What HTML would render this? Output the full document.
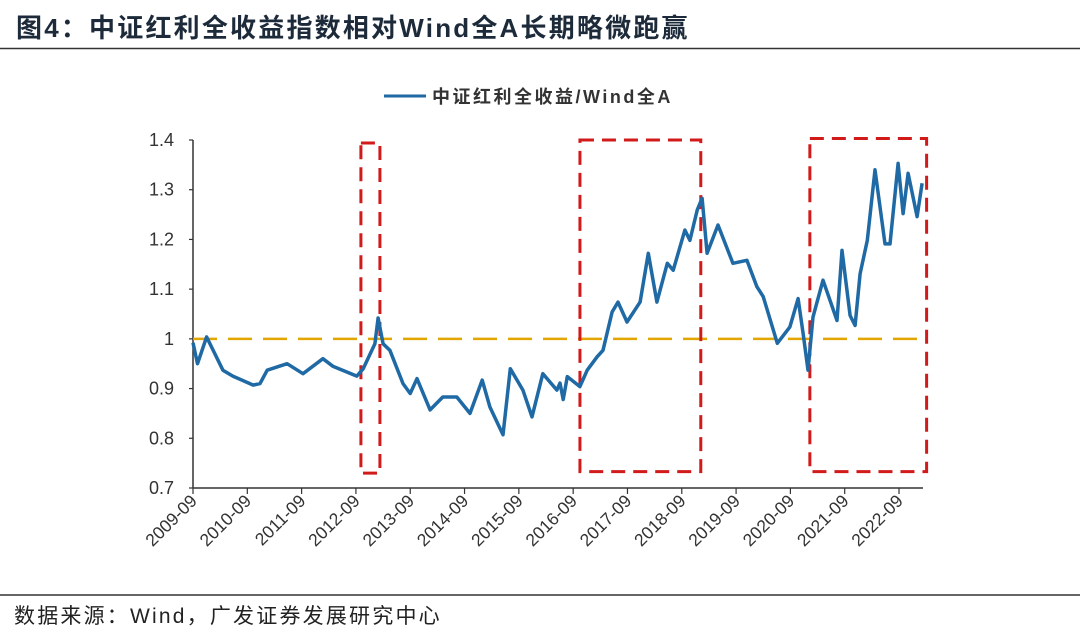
<!DOCTYPE html>
<html><head><meta charset="utf-8"><style>
html,body{margin:0;padding:0;background:#fff;}
body{width:1080px;height:638px;position:relative;overflow:hidden;font-family:"Liberation Sans","Noto Sans CJK SC",sans-serif;}
</style></head><body>
<svg width="1080" height="638" viewBox="0 0 1080 638" xmlns="http://www.w3.org/2000/svg">
<text x="16" y="37" font-size="26" font-weight="bold" letter-spacing="2.2" fill="#1c2a3a" font-family="Liberation Sans, Noto Sans CJK SC, sans-serif">图4：中证红利全收益指数相对Wind全A长期略微跑赢</text>
<line x1="0" y1="48.5" x2="1080" y2="48.5" stroke="#333" stroke-width="1.5"/>
<g>
<line x1="384" y1="96" x2="426" y2="96" stroke="#1f6aa5" stroke-width="3"/>
<text x="432" y="103" font-size="18" font-weight="bold" letter-spacing="2.5" fill="#333">中证红利全收益/Wind全A</text>
</g>
<g id="axes"></g>
<g id="boxes"></g>
<path id="series" fill="none" stroke="#1f6aa5" stroke-width="3.5" stroke-linejoin="round"/>
<line x1="0" y1="595" x2="1080" y2="595" stroke="#333" stroke-width="1.5"/>
<text x="14" y="623" font-size="21" letter-spacing="2.2" fill="#222">数据来源：Wind，广发证券发展研究中心</text>
</svg>
<script>
const months=[0,1,3,6.6,8.8,13.3,14.8,16.4,20.8,24.3,28.7,30.9,36.2,37.6,40.2,40.9,42,43.5,46.4,48,49.5,52.4,55.2,58.3,61.2,63.9,65.6,68.5,70.1,72.9,74.9,77.3,80.4,81.1,81.8,82.7,85.5,87.1,89.3,90.6,92.6,93.9,95.9,98.8,100.6,102.5,104.8,106.1,108.7,109.8,111.4,112.5,113.6,116,119.3,122.4,124.6,126,129.1,131.9,133.7,134.8,135.9,137,139.2,142.3,143.4,145.2,146.3,147.4,149,150.7,152.9,154,155.8,156.9,158,160,161.1];
const ratio=[0.992,0.95,1.004,0.937,0.925,0.907,0.91,0.937,0.95,0.93,0.96,0.945,0.925,0.94,0.99,1.042,0.99,0.977,0.91,0.89,0.92,0.857,0.883,0.883,0.85,0.917,0.863,0.807,0.94,0.897,0.843,0.93,0.897,0.911,0.878,0.924,0.904,0.937,0.964,0.977,1.054,1.074,1.034,1.074,1.172,1.074,1.152,1.138,1.219,1.198,1.259,1.283,1.172,1.229,1.152,1.158,1.105,1.085,0.991,1.024,1.081,1.011,0.937,1.044,1.118,1.037,1.178,1.047,1.027,1.131,1.198,1.34,1.191,1.191,1.353,1.252,1.333,1.246,1.313];
const yTicks=[0.7,0.8,0.9,1,1.1,1.2,1.3,1.4];
const yTickLabels=["0.7","0.8","0.9","1","1.1","1.2","1.3","1.4"];
const xTickMonths=[0,12,24,36,48,60,72,84,96,108,120,132,144,156];
const xTickLabels=["2009-09","2010-09","2011-09","2012-09","2013-09","2014-09","2015-09","2016-09","2017-09","2018-09","2019-09","2020-09","2021-09","2022-09"];
const refLevel=1;
const boxRanges=[[37.1,41.3,1.394,0.73],[85.5,112.2,1.4,0.733],[136.3,162.1,1.403,0.733]];

const NS="http://www.w3.org/2000/svg";
const X0=193,X1=923,Y0=488,Y1=140;
const xs=m=>X0+(m-0)/(161.3)*(X1-X0);
const ys=v=>Y0-(v-0.7)/(0.7)*(Y0-Y1);
function mk(tag,attrs,parent){const e=document.createElementNS(NS,tag);for(const k in attrs)e.setAttribute(k,attrs[k]);parent.appendChild(e);return e;}
const axes=document.getElementById('axes');
let a=mk('line',{x1:X0,y1:Y1,x2:X0,y2:Y0,stroke:'#333','stroke-width':1.5},axes);


a=mk('line',{x1:X0,y1:Y0,x2:X1,y2:Y0,stroke:'#333','stroke-width':1.5},axes);


yTicks.forEach((v,i)=>{
 const y=ys(v);
 const t=mk('line',{x1:X0-4,y1:y,x2:X0,y2:y,stroke:'#333','stroke-width':1.2},axes);
 
 
 const l=mk('text',{x:X0-19,y:y+6,'text-anchor':'end','font-size':18,fill:'#333'},axes);
 l.textContent=yTickLabels[i];
 
 
});
xTickMonths.forEach((m,i)=>{
 const x=xs(m);
 const t=mk('line',{x1:x,y1:Y0,x2:x,y2:Y0+6,stroke:'#333','stroke-width':1.2},axes);
 
 
 const l=mk('text',{x:x+5,y:Y0+14,'text-anchor':'end','font-size':17.5,fill:'#333',transform:`rotate(-45 ${x+5} ${Y0+14})`},axes);
 l.textContent=xTickLabels[i];
 
 
});
const ref=mk('line',{x1:X0,y1:ys(refLevel),x2:X1,y2:ys(refLevel),stroke:'#e3a600','stroke-width':2.5,'stroke-dasharray':'24,11'},axes);


const boxes=document.getElementById('boxes');
boxRanges.forEach(b=>{
 const x=xs(b[0]),x2=xs(b[1]),y=ys(b[2]),y2=ys(b[3]);
 const r=mk('rect',{x:x,y:y,width:x2-x,height:y2-y,fill:'none',stroke:'#d11a1a','stroke-width':3,'stroke-dasharray':'14,8'},boxes);
 
 
});
document.getElementById('series').setAttribute('d',months.map((m,i)=>(i?'L':'M')+xs(m).toFixed(1)+','+ys(ratio[i]).toFixed(1)).join(''));
</script>
</body></html>
